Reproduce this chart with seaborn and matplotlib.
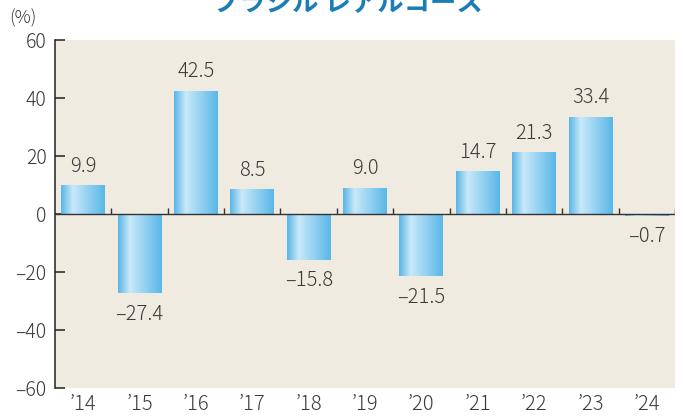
import matplotlib.pyplot as plt
import matplotlib.colors as mcolors
import numpy as np
import pandas as pd
import seaborn as sns

years = ["’14", "’15", "’16", "’17", "’18", "’19", "’20", "’21", "’22", "’23", "’24"]
returns = [9.9, -27.4, 42.5, 8.5, -15.8, 9.0, -21.5, 14.7, 21.3, 33.4, -0.7]
title = "ブラジル レアルコース"

BG = "#efebe0"
TEXT = "#3a3a3a"


def fmt(v):
    s = f"{abs(v):.1f}"
    return s if v >= 0 else "–" + s


def main():
    sns.set_style("white")
    plt.rcParams["font.family"] = ["Noto Sans CJK JP", "DejaVu Sans"]

    df = pd.DataFrame({"year": years, "ret": returns})
    fig = plt.figure(figsize=(6.83, 4.17), dpi=100)
    ax = fig.add_axes([0.0805, 0.0695, 0.908, 0.8345])
    ax.set_facecolor(BG)

    sns.barplot(data=df, x="year", y="ret", color="#5bb8e8", width=0.78,
                saturation=1, ax=ax, zorder=2)

    # horizontal gradient on every bar
    cmap = mcolors.LinearSegmentedColormap.from_list(
        "bar", [(0.0, "#58b5e7"), (0.27, "#c9e9f9"), (1.0, "#58b7e8")])
    grad = np.linspace(0, 1, 256).reshape(1, -1)
    for p in ax.patches:
        x0, y0 = p.get_x(), p.get_y()
        w, h = p.get_width(), p.get_height()
        im = ax.imshow(grad, cmap=cmap, aspect="auto", zorder=3,
                       extent=[x0, x0 + w, min(y0, y0 + h), max(y0, y0 + h)])
        im.set_clip_path(p)
        p.set_edgecolor("none")

    n = len(years)
    ax.set_xlim(-0.5, n - 0.5)
    ax.set_ylim(-60, 60)

    # zero line with small upward ticks between categories
    ax.axhline(0, color="#333333", lw=1.0, zorder=4)
    ax.vlines(np.arange(n) + 0.5, 0, 2.2, color="#333333", lw=1.0, zorder=4)

    for i, v in enumerate(returns):
        if v >= 0:
            ax.text(i, v + 3, fmt(v), ha="center", va="bottom", fontsize=14.5,
                    color=TEXT, fontweight="light")
        else:
            ax.text(i, v - 3.5, fmt(v), ha="center", va="top", fontsize=14.5,
                    color=TEXT, fontweight="light")

    for s in ["top", "right", "bottom"]:
        ax.spines[s].set_visible(False)
    ax.spines["left"].set_color("#222222")
    ax.spines["left"].set_linewidth(1.1)

    yt = np.arange(-60, 61, 20)
    ax.set_yticks(yt)
    ax.set_yticklabels([str(t) if t >= 0 else "–" + str(-t) for t in yt])
    ax.tick_params(axis="y", direction="in", length=7, width=1.1, color="#222222",
                   labelsize=14, labelcolor=TEXT, pad=6, left=True)
    ax.tick_params(axis="x", length=0, labelsize=14.5, labelcolor=TEXT, pad=4)
    for lab in ax.get_yticklabels() + ax.get_xticklabels():
        lab.set_fontweight("light")
    ax.set_xlabel("")
    ax.set_ylabel("")

    fig.text(23 / 683, 1 - 18 / 417, "(%)", ha="center", va="center",
             fontsize=13, color=TEXT, fontweight="light")
    fig.text(348 / 683, 1 - 3 / 417, title, ha="center", va="center",
             fontsize=19, color="#1b7db5", fontweight="bold")

    fig.savefig("out.png", dpi=100, facecolor="white")
    plt.close(fig)


if __name__ == "__main__":
    main()
